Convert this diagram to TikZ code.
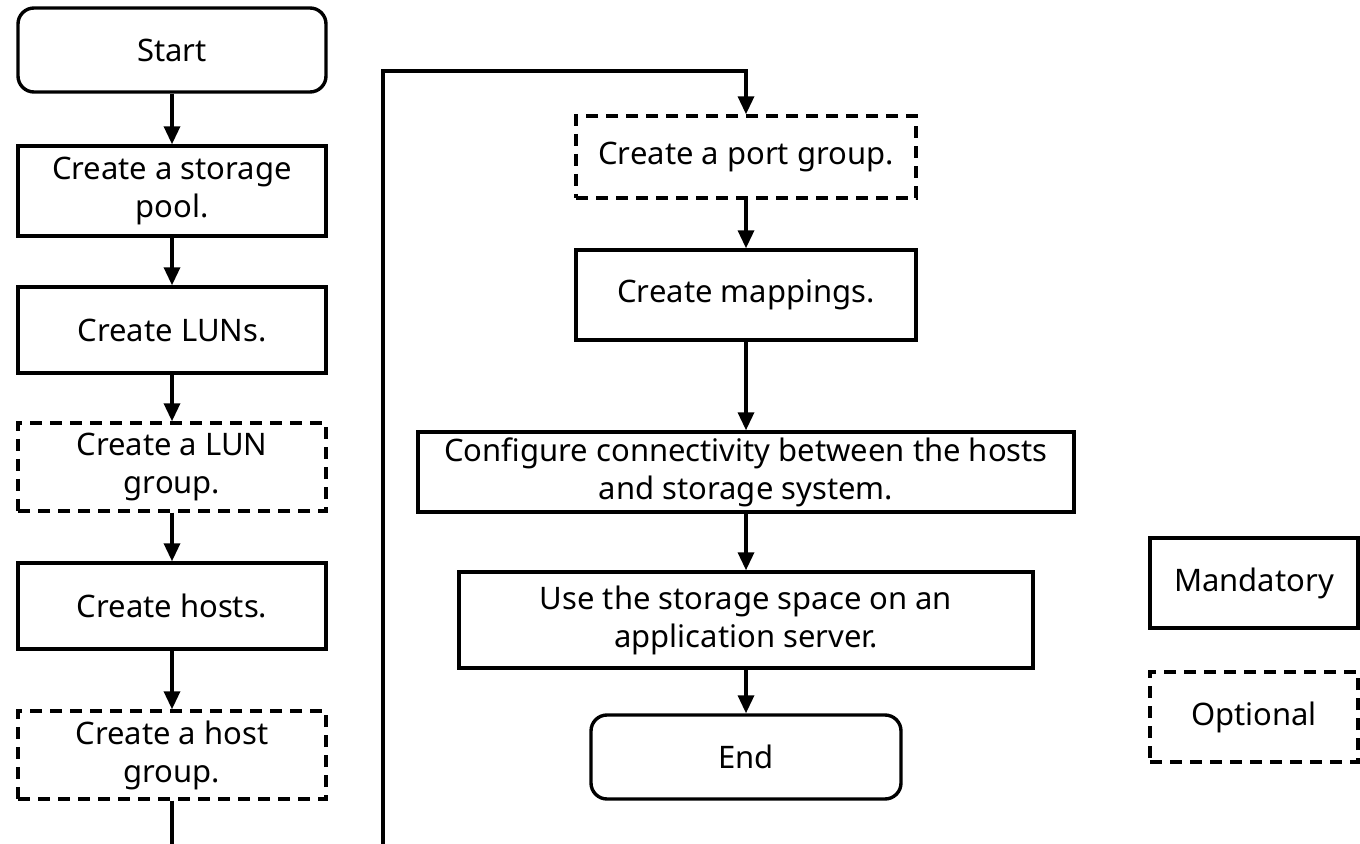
\documentclass[tikz,border=0pt]{standalone}
\usepackage{fontspec}
\setmainfont{Noto Sans}
\usetikzlibrary{arrows.meta}
\begin{document}
\begin{tikzpicture}[x=0.5pt,y=-0.5pt,line width=1.7pt,
	box/.style={draw,rectangle,align=center,inner sep=0pt,font=\fontsize{15.5}{19}\selectfont},
	term/.style={box,rounded corners=8pt},
	opt/.style={box,dash pattern=on 6pt off 4pt},
	arr/.style={-{Triangle[length=9pt,width=8pt]}}]
\useasboundingbox (0,0) rectangle (1360,844);
% left column
\node[term,minimum width=154pt,minimum height=42pt] (start) at (172,50) {Start};
\node[box,minimum width=154pt,minimum height=45pt] (pool) at (172,191) {Create a storage\\pool.};
\node[box,minimum width=154pt,minimum height=43pt] (luns) at (172,330) {Create LUNs.};
\node[opt,minimum width=154pt,minimum height=44pt] (lungrp) at (172,467) {Create a LUN\\group.};
\node[box,minimum width=154pt,minimum height=43pt] (hosts) at (172,606) {Create hosts.};
\node[opt,minimum width=154pt,minimum height=44pt] (hostgrp) at (172,755) {Create a host\\group.};
% right column
\node[opt,minimum width=170pt,minimum height=41pt] (portgrp) at (746,157) {Create a port group.};
\node[box,minimum width=170pt,minimum height=45pt] (maps) at (746,295) {Create mappings.};
\node[box,minimum width=328pt,minimum height=40pt] (conn) at (746,472) {Configure connectivity between the hosts\\and storage system.};
\node[box,minimum width=287pt,minimum height=48pt] (use) at (746,620) {Use the storage space on an\\application server.};
\node[term,minimum width=155pt,minimum height=42pt] (end) at (746,757) {End};
% legend
\node[box,minimum width=104pt,minimum height=45pt] (mand) at (1254,583) {Mandatory};
\node[opt,minimum width=104pt,minimum height=45pt] (optl) at (1254,717) {Optional};
% connectors
\draw[arr] (start) -- (pool);
\draw[arr] (pool) -- (luns);
\draw[arr] (luns) -- (lungrp);
\draw[arr] (lungrp) -- (hosts);
\draw[arr] (hosts) -- (hostgrp);
\coordinate (cut1) at (172,850);
\coordinate (cut2) at (383,850);
\draw (hostgrp) -- (cut1);
\draw[arr] (cut2) |- (746,71) -- (portgrp);
\draw[arr] (portgrp) -- (maps);
\draw[arr] (maps) -- (conn);
\draw[arr] (conn) -- (use);
\draw[arr] (use) -- (end);
\end{tikzpicture}
\end{document}
